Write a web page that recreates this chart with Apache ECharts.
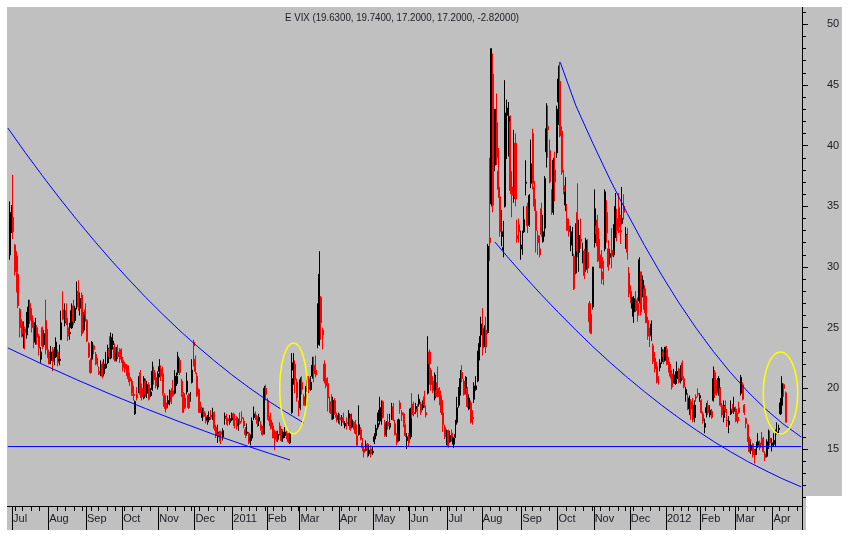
<!DOCTYPE html>
<html><head><meta charset="utf-8">
<script src="https://cdn.jsdelivr.net/npm/echarts@6/dist/echarts.min.js"></script>
<style>html,body{margin:0;padding:0;background:#fff}#c{width:850px;height:535px}</style>
</head><body><div id="c"></div><script>
const titleText = 'E VIX (19.6300, 19.7400, 17.2000, 17.2000, -2.82000)';
const monthNames = ['Jan','Feb','Mar','Apr','May','Jun','Jul','Aug','Sep','Oct','Nov','Dec'];
const holidays = ['2010-07-05','2010-09-06','2010-11-25','2010-12-24','2011-01-17','2011-02-21','2011-04-22','2011-05-30','2011-07-04','2011-09-05','2011-11-24','2011-12-26','2012-01-02','2012-01-16','2012-02-20','2012-04-06'];
const firstDay = '2010-06-28', lastDay = '2012-04-25';
const yTickValues = [15,20,25,30,35,40,45,50];
const yMinorValues = [11,12,13,14,16,17,18,19,21,22,23,24,26,27,28,29,31,32,33,34,36,37,38,39,41,42,43,44,46,47,48,49,51];

// bars: [open, high, low, close]
const bars2010 = [
 null,[31.0,35.4,30.6,34.1],[33.6,35.1,32.8,34.5],
 // Jul
 [34.1,37.6,32.3,32.9],[31.8,31.9,29.3,30.1],[30.9,31.3,27.9,29.6],[29.4,29.5,26.6,26.8],[26.5,26.6,24.2,25.0],
 [25.5,25.7,24.2,24.4],[24.3,25.5,23.3,24.4],[24.9,25.1,23.2,24.6],[24.4,26.3,24.1,25.9],[25.4,27.3,25.0,26.7],
 [27.0,27.3,25.3,25.6],[26.0,26.6,24.6,25.0],[25.4,25.6,23.3,23.9],[23.8,25.8,23.6,25.4],[25.0,25.2,23.6,24.2],
 [24.3,24.5,22.7,23.3],[22.4,23.4,22.1,23.0],[25.0,25.1,23.2,23.5],[23.6,24.8,23.4,24.5],[25.6,27.3,22.8,24.0],
 [24.2,24.9,22.5,23.2],
 // Aug
 [23.0,23.2,22.0,22.0],[22.3,23.5,22.0,23.0],[23.2,23.4,21.4,22.2],[22.4,23.4,21.9,23.0],[22.6,24.2,22.5,23.8],
 [23.0,23.2,21.8,22.1],[22.3,23.6,21.9,22.4],[24.0,26.4,24.0,25.4],[26.5,28.0,25.6,25.7],[25.4,27.0,25.1,26.2],
 [26.4,27.0,25.2,25.5],[25.0,25.8,23.9,24.3],[24.5,25.4,24.0,24.6],[25.0,27.0,24.9,26.4],[26.8,27.3,25.2,25.5],
 [25.6,26.8,25.4,26.6],[26.8,28.8,26.5,27.5],[28.0,28.9,26.4,26.7],[26.6,27.9,26.0,27.4],[27.7,27.9,24.3,24.5],
 [24.8,26.3,24.6,26.1],[26.5,27.0,25.5,26.1],
 // Sep
 [25.6,25.7,23.8,23.9],[23.7,23.8,22.5,22.6],[22.3,22.5,21.2,21.3],[22.4,23.9,22.3,23.8],[23.5,23.6,22.8,23.2],
 [22.8,23.0,21.9,22.2],[22.3,22.5,21.8,22.0],[21.4,21.8,21.1,21.2],[21.3,22.3,21.0,21.6],[22.0,22.2,20.8,21.0],
 [21.2,22.4,21.0,22.0],[21.7,23.0,21.6,22.0],[22.1,23.6,22.0,23.3],[23.2,24.3,22.4,22.6],[22.5,24.6,22.4,24.2],
 [23.6,24.5,23.2,23.9],[23.4,23.7,22.2,22.4],[22.3,23.4,22.2,22.9],[23.0,23.6,22.4,22.6],[22.8,23.3,22.1,22.4],
 [23.2,23.3,22.1,22.5],
 // Oct
 [22.3,22.6,21.4,21.7],[22.0,22.2,21.3,21.6],[21.9,22.0,21.0,21.3],[21.8,21.9,20.5,20.8],[20.9,21.3,20.2,20.6],
 [20.6,20.8,19.4,19.6],[19.5,20.2,19.0,19.4],[17.9,19.0,17.8,18.9],[19.5,20.1,19.0,19.2],[20.0,21.0,19.6,20.9],
 [21.3,21.5,19.2,19.5],[20.0,20.4,19.0,19.3],[19.2,21.0,19.1,20.8],[20.6,20.8,19.3,19.5],[19.6,20.6,19.2,20.3],
 [20.3,20.5,19.0,19.1],[19.4,20.0,19.3,19.7],[19.9,22.2,19.8,21.4],[21.5,21.8,20.3,20.7],[20.9,21.3,20.0,20.2],
 [20.1,21.4,19.9,21.2],
 // Nov
 [21.4,22.4,20.9,21.8],[21.6,21.9,20.6,21.0],[21.2,21.8,19.4,19.6],[19.4,19.6,18.3,18.5],[18.8,19.2,18.0,18.3],
 [18.7,19.4,18.4,19.0],[18.9,19.9,18.6,19.6],[19.8,20.0,18.7,18.9],[19.8,20.7,19.3,19.4],[19.6,21.5,19.5,20.6],
 [20.4,21.3,20.2,21.0],[21.3,23.0,21.1,22.6],[22.3,22.5,21.1,21.3],[20.6,20.8,19.3,19.6],[19.5,19.7,18.0,18.0],
 [19.2,19.6,18.3,18.4],[19.7,21.3,19.5,20.6],[19.4,19.6,18.3,18.4],[19.4,19.7,18.9,19.5],[20.5,22.4,20.4,21.5],
 [23.8,24.0,21.8,23.5],
 // Dec
 [22.4,22.7,21.2,21.4],[21.0,21.3,19.3,19.4],[19.9,20.0,18.0,18.0],[18.5,18.9,18.0,18.0],[17.6,18.4,17.3,18.0],
 [18.1,18.4,17.6,17.7],[17.7,18.0,17.1,17.3],[17.4,17.8,17.0,17.6],[17.4,18.1,17.2,17.6],[17.8,18.2,17.4,17.6],
 [17.7,18.4,17.4,17.9],[18.0,18.1,16.5,16.7],[16.8,17.0,15.9,16.1],[16.0,17.0,15.5,16.4],[16.3,16.5,15.6,16.1],
 [16.4,16.5,15.4,16.2],[16.0,16.7,15.7,16.5],[17.5,18.0,17.0,17.7],[17.6,17.9,17.0,17.5],[17.5,17.6,16.9,17.3],
 [17.2,17.8,17.0,17.5],[17.4,18.0,17.3,17.8]
];
const bars2011 = [
 // Jan
 [17.9,18.0,16.9,17.6],[17.5,17.9,16.7,17.4],[17.6,17.7,16.6,17.0],[16.9,17.5,16.5,17.1],[17.3,18.0,17.0,17.1],
 [17.6,18.1,17.2,17.5],[17.3,17.6,16.7,16.9],[16.6,16.8,15.9,16.2],[16.3,17.1,16.1,16.4],[16.3,16.4,15.4,15.5],
 [15.7,16.2,15.3,15.9],[15.9,17.6,15.8,17.3],[17.6,18.5,17.4,17.9],[17.8,18.1,17.4,17.6],[17.6,17.7,16.8,17.1],
 [17.3,17.9,16.9,17.6],[17.0,17.3,16.5,16.6],[16.5,16.9,16.1,16.2],[16.3,20.2,16.2,20.0],[20.0,20.3,19.0,19.5],
 // Feb
 [19.0,19.2,17.4,17.6],[17.5,17.7,16.9,17.3],[17.4,18.0,16.6,16.7],[16.9,17.2,15.9,15.9],[16.4,16.6,14.9,16.0],
 [16.1,16.5,15.6,15.8],[15.8,16.5,15.6,16.2],[16.9,17.2,16.1,16.5],[16.6,16.7,15.6,15.7],[15.9,16.5,15.6,16.4],
 [16.1,16.8,15.9,16.4],[16.3,16.5,15.8,16.0],[16.0,16.3,15.5,15.6],[15.5,16.5,15.4,16.3],[18.0,22.9,17.9,20.8],
 [21.5,22.9,20.3,22.1],[22.0,22.3,19.6,20.7],[20.5,20.8,18.9,19.2],[18.6,19.0,17.7,18.4],
 // Mar
 [18.4,20.9,18.2,20.7],[20.5,21.0,19.5,19.9],[19.3,19.5,18.6,18.6],[18.8,20.2,18.5,19.5],[19.7,21.0,19.5,20.7],
 [20.8,21.0,19.6,19.9],[19.9,21.0,19.8,20.5],[21.0,22.6,20.8,21.9],[21.9,22.6,20.5,21.2],[21.5,22.7,20.9,21.1],
 [23.6,27.0,23.3,24.3],[24.2,31.3,23.5,29.4],[27.5,27.6,24.0,25.4],[24.8,25.0,23.2,24.4],[22.0,22.3,20.4,20.6],
 [20.8,21.0,20.0,20.2],[20.4,20.9,18.1,19.2],[18.9,19.3,18.0,18.0],[18.4,19.5,17.4,17.9],[17.5,19.3,17.4,19.0],
 [19.0,19.2,17.8,17.9],[17.8,18.0,17.2,17.6],[17.4,18.0,17.1,17.7],
 // Apr
 [17.6,17.9,17.0,17.4],[17.3,17.8,16.9,17.5],[17.6,18.0,17.0,17.2],[16.9,17.3,16.7,17.1],[17.2,17.6,16.6,17.1],
 [17.0,18.2,16.9,17.9],[17.5,17.9,16.5,16.6],[16.8,17.9,16.7,17.4],[17.2,17.3,16.6,16.9],[17.0,17.4,16.2,16.3],
 [16.1,16.4,15.3,15.3],[16.2,18.6,16.1,17.0],[16.6,16.8,15.7,15.8],[15.5,15.9,14.8,15.1],[15.0,15.2,14.3,14.7],
 [14.9,15.7,14.8,15.0],[15.4,15.5,14.3,15.0],[14.6,15.3,14.4,14.9],[15.0,15.3,14.3,14.6],[14.7,15.2,14.5,14.8],
 // May
 [15.6,16.3,15.4,16.0],[16.1,17.0,15.8,16.7],[16.8,18.0,16.6,17.1],[17.3,19.3,17.0,18.2],[17.5,19.0,17.0,18.4],
 [18.9,19.0,17.5,17.6],[17.2,17.4,16.0,16.1],[16.2,17.3,16.0,17.0],[17.2,17.9,16.6,16.9],[16.8,17.9,16.6,17.1],
 [17.7,18.8,17.4,18.2],[18.5,18.8,17.3,17.4],[17.1,17.4,16.1,16.2],[16.0,16.3,15.3,15.5],[15.7,17.5,15.6,17.4],
 [18.8,19.0,17.9,18.3],[18.0,18.2,17.3,17.8],[17.9,18.0,16.8,17.1],[17.0,17.1,16.0,16.1],[15.7,16.3,15.0,16.0],
 [16.2,16.3,15.2,15.5],
 // Jun
 [16.0,18.4,15.8,18.3],[18.7,19.6,17.5,17.8],[18.0,18.9,17.7,17.9],[18.1,18.8,17.9,18.5],[18.3,18.7,17.6,18.1],
 [18.7,19.5,18.5,19.1],[18.7,18.9,17.8,18.0],[18.4,19.0,18.2,18.9],[19.3,19.8,18.4,18.6],[18.0,18.6,17.6,17.8],
 [19.6,24.3,19.5,22.7],[23.0,23.2,20.3,22.0],[21.5,21.7,19.8,20.3],[20.6,21.0,19.6,19.8],[19.2,21.3,19.0,21.1],
 [19.8,20.5,19.3,19.3],[20.0,21.8,19.3,19.3],[19.8,20.1,18.6,18.9],[19.0,19.4,17.8,18.0],[18.0,18.1,16.4,17.0],
 [16.8,17.0,15.8,16.0],[16.0,16.6,15.3,16.5],
 // Jul
 [16.5,16.6,15.1,15.2],[15.6,16.5,15.5,16.1],[16.3,16.6,15.6,15.9],[15.4,16.0,15.1,15.9],[16.0,17.4,15.9,16.2],
 [17.2,19.3,17.0,18.4],[18.6,20.1,18.4,19.9],[19.6,21.5,19.4,20.8],[21.3,21.9,20.5,20.8],[20.6,20.8,19.4,19.5],
 [20.0,21.0,19.5,20.9],[19.9,20.1,18.4,18.5],[18.3,19.5,18.2,19.2],[18.8,19.0,17.1,17.2],[17.6,18.2,17.0,17.5],
 [19.1,20.5,18.8,20.2],[19.9,21.0,19.8,20.2],[20.6,23.1,20.5,23.0],[22.6,24.3,22.3,23.7],[24.4,25.9,23.4,25.3],
 // Aug
 [25.0,26.6,22.7,23.3],[23.6,25.2,23.4,24.8],[24.8,25.9,22.9,23.4],[24.6,31.9,24.5,31.7],[32.4,39.0,30.5,32.0],
 [35.2,48.0,35.0,48.0],[45.9,47.6,34.5,35.1],[38.4,43.0,37.9,43.0],[41.9,44.3,38.4,39.0],[37.9,39.8,35.7,36.4],
 [35.8,36.6,32.5,32.9],[32.5,34.7,31.7,32.9],[31.4,33.8,30.8,31.6],[35.0,45.4,34.9,42.7],[42.5,43.8,38.9,43.1],
 [40.8,43.6,39.1,42.4],[42.0,42.5,36.0,36.3],[36.6,37.9,34.1,35.9],[36.2,41.3,35.3,39.8],[40.2,41.0,35.0,35.6],
 [32.6,33.9,32.0,32.3],[33.5,34.0,32.0,32.9],[31.5,33.0,30.6,31.6],
 // Sep
 [31.5,33.0,31.0,31.8],[32.9,35.0,32.8,33.9],[36.9,38.8,35.9,37.0],[35.0,35.3,32.8,33.4],[33.5,36.0,33.3,35.9],
 [36.9,40.5,36.5,38.5],[41.0,41.4,36.4,36.9],[36.6,37.1,34.6,35.0],[34.6,35.6,31.2,33.0],[32.6,33.0,31.0,32.0],
 [31.5,32.6,30.8,31.0],[34.8,35.3,32.5,32.7],[32.1,34.3,32.0,32.9],[33.2,37.5,32.5,37.3],[39.5,43.5,38.2,41.4],
 [41.6,43.3,39.0,41.3],[39.6,40.5,36.9,37.0],[35.4,36.4,34.3,35.3],[34.5,39.0,34.3,38.8],[38.0,39.5,35.4,37.0],
 [39.4,43.3,39.0,43.0],
 // Oct
 [43.6,46.6,41.7,45.5],[45.3,46.9,40.7,40.8],[41.2,41.6,37.6,37.8],[36.7,38.0,36.0,36.3],[35.1,37.4,34.6,36.2],
 [34.0,35.2,33.0,33.0],[33.4,34.0,32.5,32.9],[31.8,33.4,31.3,32.9],[31.9,33.3,30.9,32.0],[30.9,31.1,28.1,28.2],
 [29.5,33.6,29.4,33.4],[34.5,36.9,30.8,31.3],[31.2,33.9,29.6,32.6],[32.3,34.0,31.5,32.1],[30.8,32.0,30.3,31.3],
 [31.3,31.5,29.0,29.3],[29.8,32.4,29.6,32.2],[31.2,32.3,29.5,29.9],[27.0,27.2,24.6,25.5],[26.1,26.5,24.5,24.5],
 [26.7,30.0,26.5,30.0],
 // Nov
 [32.0,36.4,31.6,34.8],[33.4,33.9,31.7,32.7],[33.2,34.3,30.4,30.5],[31.0,32.3,29.9,30.2],[30.8,31.4,28.6,29.9],
 [29.6,30.5,28.5,29.0],[31.5,36.4,31.3,36.2],[34.5,35.5,32.0,32.8],[31.5,32.2,29.7,30.0],[30.8,31.5,30.2,31.1],
 [31.4,33.2,29.9,30.9],[31.0,33.5,30.8,33.5],[33.0,36.1,32.4,35.0],[34.0,34.8,32.1,33.0],[34.9,36.1,32.8,33.3],
 [33.0,34.3,31.9,32.9],[33.6,36.6,33.5,34.0],[35.0,36.0,33.9,34.5],[32.0,33.3,31.5,32.7],[32.6,33.2,30.6,31.2],
 [29.5,30.0,27.5,27.8],
 // Dec
 [28.0,28.5,27.0,27.4],[26.6,27.5,25.9,27.5],[26.3,27.6,25.4,27.4],[27.3,28.0,26.3,26.4],[27.0,27.5,25.5,26.0],
 [27.2,30.8,27.0,30.6],[29.6,29.6,26.0,26.3],[28.0,29.3,27.5,28.9],[28.2,28.5,26.2,26.5],[27.0,27.6,25.4,25.4],
 [25.6,25.9,24.0,24.3],[24.5,25.0,23.4,24.3],[24.4,25.6,23.9,25.3],[23.5,23.7,22.0,22.2],[22.5,23.0,21.3,21.6],
 [21.8,22.2,20.4,20.5],[20.8,21.0,20.3,20.7],[21.7,22.4,21.4,22.1],[22.2,23.4,22.0,23.2],[23.0,23.2,22.0,22.6],
 [22.3,23.4,22.2,23.4]
];
const bars2012 = [
 // Jan
 [23.2,23.5,21.9,22.0],[22.2,22.6,21.3,21.5],[21.6,22.0,20.8,21.0],[21.2,21.5,19.9,20.1],[20.5,21.6,20.4,21.1],
 [20.4,21.4,20.3,20.7],[20.8,22.2,20.7,21.4],[21.6,21.7,20.4,20.5],[20.6,21.9,20.4,21.5],[22.1,22.3,20.7,20.9],
 [20.8,21.0,20.0,20.1],[19.5,20.1,18.9,19.9],[19.2,19.6,18.2,18.3],[18.3,19.4,17.8,19.2],[18.9,19.1,17.4,18.3],
 [18.6,19.2,17.2,17.4],[17.6,19.0,17.2,18.6],[19.3,19.5,18.9,19.2],[19.6,20.0,19.3,19.5],[19.2,19.6,18.9,19.4],
 // Feb
 [19.0,19.1,17.9,18.0],[17.9,18.1,17.1,17.3],[16.8,17.5,16.3,17.1],[18.0,18.8,17.6,18.4],[18.6,19.0,17.8,18.0],
 [17.8,18.6,17.6,18.2],[18.1,18.3,17.5,17.6],[19.0,21.8,18.9,20.8],[21.3,21.5,19.2,19.5],[20.4,20.7,19.4,19.6],
 [19.8,21.0,19.4,20.8],[20.0,20.1,18.5,18.6],[18.6,18.8,17.6,17.8],[17.6,19.0,17.2,18.6],[18.5,19.0,18.0,18.2],
 [17.4,18.3,16.8,17.3],[17.0,17.7,16.3,17.3],[17.9,19.0,17.8,18.2],[18.3,18.7,18.0,18.2],[18.1,19.3,17.9,18.4],
 // Mar
 [18.3,18.5,17.2,17.3],[17.6,18.0,17.1,17.3],[18.4,18.9,17.9,18.0],[19.6,21.1,19.4,20.9],[20.3,20.5,19.0,19.1],
 [18.6,18.7,17.8,18.0],[17.5,17.6,16.7,17.1],[17.0,17.1,15.6,15.6],[15.8,16.0,14.7,14.8],[14.9,15.6,14.6,15.3],
 [15.4,15.5,14.3,14.5],[14.7,15.0,13.8,14.5],[14.6,15.6,14.5,15.0],[15.3,16.3,15.1,15.6],[15.5,15.7,14.9,15.1],
 [15.9,16.4,15.3,15.6],[15.8,16.0,14.7,14.8],[14.6,14.8,14.0,14.3],[14.4,15.8,14.3,15.6],[15.3,16.6,15.0,15.5],
 [15.9,16.5,15.3,15.5],[15.3,15.9,14.8,15.5],
 // Apr
 [15.4,16.3,15.2,15.6],[15.5,16.6,15.2,15.7],[16.3,17.2,16.2,16.4],[16.6,17.0,16.2,16.7],[17.9,19.2,17.8,18.8],
 [18.6,21.0,18.5,20.4],[20.3,20.4,19.3,20.0],[19.63,19.74,17.20,17.20]
];

// trend lines: [trading-day index, VIX value]
const trendUpperLeft = [[0,41.45],[10,39.45],[20,37.53],[30,35.68],[40,33.90],[50,32.20],[60,30.56],[70,29.01],[80,27.51],[90,26.10],[100,24.74],[110,23.47],[120,22.27],[130,21.13],[140,20.07],[150,19.08],[160,18.17],[170,17.32],[172,17.15]];
const trendLowerLeft = [[0,23.33],[20,21.99],[40,20.71],[60,19.49],[80,18.33],[100,17.23],[120,16.18],[140,15.20],[152,14.64],[164,14.09]];
const trendFlat = [[0,15.2],[461,15.2]];
const trendUpperRight = [[321,46.88],[330,43.33],[340,40.18],[350,37.19],[360,34.40],[370,31.77],[380,29.32],[390,27.04],[400,24.95],[410,23.03],[420,21.29],[430,19.72],[440,18.33],[450,17.12],[461,15.99]];
const trendLowerRight = [[283,32.07],[290,30.89],[300,29.27],[310,27.72],[320,26.24],[330,24.81],[340,23.43],[350,22.13],[360,20.89],[370,19.72],[380,18.60],[390,17.55],[400,16.56],[410,15.63],[420,14.77],[430,13.96],[440,13.24],[450,12.55],[461,11.88]];
// ellipses: trading-day index range, value range
const ellipses = [{from:158,to:174,lo:16.24,hi:23.74},{from:439,to:459,lo:16.24,hi:23.0}];

function tradingDays(start, end){
  const out=[]; let t=Date.parse(start+'T00:00:00Z'); const e=Date.parse(end+'T00:00:00Z');
  while(t<=e){ const d=new Date(t); const wd=d.getUTCDay(); const s=d.toISOString().slice(0,10);
    if(wd!==0&&wd!==6&&holidays.indexOf(s)<0) out.push(s); t+=86400000; }
  return out;
}
const days = tradingDays(firstDay, lastDay);
const allBars = bars2010.concat(bars2011, bars2012);
const candleData = allBars.map(b => b ? [b[0], b[3], b[2], b[1]] : '-');
const isMonthStart = i => i>0 && days[i].slice(0,7)!==days[i-1].slice(0,7);
const weekNo = s => Math.floor((Date.parse(s+'T00:00:00Z')/86400000 + 3)/7);
const isWeekStart = i => i>0 && weekNo(days[i])!==weekNo(days[i-1]);
const toLine = arr => arr.map(p => [days[p[0]], p[1]]);

const font = "'Liberation Sans',Arial,sans-serif";
const txtColor = '#1c1c24';
const chart = echarts.init(document.getElementById('c'), null, {renderer:'canvas'});
const blueLine = (data) => ({type:'line', data: toLine(data), symbol:'none', silent:true, z:5,
  lineStyle:{color:'#0000ff', width:1}, xAxisIndex:0, yAxisIndex:0});

chart.setOption({
  backgroundColor:'#c0c0c0',
  animation:false,
  grid:{left:7, right:48, top:7, bottom:29},
  xAxis:[
    {type:'category', data:days, boundaryGap:true, position:'bottom',
     axisLine:{show:true, lineStyle:{color:'#000', width:1}},
     axisTick:{show:true, interval:(i)=>isWeekStart(i), length:5, lineStyle:{color:'#000'}},
     axisLabel:{show:true, interval:(i)=>isMonthStart(i), align:'left', margin:7,
       fontFamily:font, fontSize:11, color:txtColor,
       formatter:(v)=>{const m=+v.slice(5,7); return m===1 ? v.slice(0,4) : monthNames[m-1];}},
     splitLine:{show:false}},
    {type:'category', data:days, boundaryGap:true, position:'bottom',
     axisLine:{show:false},
     axisTick:{show:true, interval:(i)=>isMonthStart(i), length:24, lineStyle:{color:'#000'}},
     axisLabel:{show:false}, splitLine:{show:false}}
  ],
  yAxis:[
    {type:'value', position:'right', min:10.30, max:51.43, scale:true,
     axisLine:{show:true, lineStyle:{color:'#000', width:1}},
     axisTick:{show:true, customValues:yTickValues, length:6, lineStyle:{color:'#000'}},
     axisLabel:{show:true, customValues:yTickValues, margin:25, fontFamily:font, fontSize:11, color:txtColor},
     splitLine:{show:false}},
    {type:'value', position:'right', min:10.30, max:51.43, scale:true,
     axisLine:{show:false},
     axisTick:{show:true, customValues:yMinorValues, length:4, lineStyle:{color:'#000'}},
     axisLabel:{show:false}, splitLine:{show:false}}
  ],
  series:[
    {type:'candlestick', data:candleData, xAxisIndex:0, yAxisIndex:0, barWidth:1.6,
     itemStyle:{color:'#000000', color0:'#ff0000', borderColor:'#000000', borderColor0:'#ff0000', borderColorDoji:'#000000', borderWidth:1}},
    blueLine(trendUpperLeft), blueLine(trendLowerLeft), blueLine(trendFlat),
    blueLine(trendUpperRight), blueLine(trendLowerRight)
  ]
});

const finder = {xAxisIndex:0, yAxisIndex:0};
const gfx = [];
ellipses.forEach(e => {
  const p1 = chart.convertToPixel(finder, [e.from, e.hi]);
  const p2 = chart.convertToPixel(finder, [e.to, e.lo]);
  gfx.push({type:'ellipse', z:50, silent:true,
    shape:{cx:(p1[0]+p2[0])/2, cy:(p1[1]+p2[1])/2, rx:Math.abs(p2[0]-p1[0])/2, ry:Math.abs(p2[1]-p1[1])/2},
    style:{fill:null, stroke:'#ffff00', lineWidth:1.5}});
});
// white page margins around the grey chart panel
[[0,0,850,7],[0,0,7,535],[842,0,8,535],[0,530,850,5],[806,496,44,39]].forEach(r => {
  gfx.push({type:'rect', z:100, silent:true, shape:{x:r[0], y:r[1], width:r[2], height:r[3]}, style:{fill:'#ffffff'}});
});
// title squeezed horizontally to the narrow face of the original
const titleFont = '11px ' + font;
const ctx = document.createElement('canvas').getContext('2d');
ctx.font = titleFont;
const tw = ctx.measureText(titleText).width || 234;
gfx.push({type:'text', z:60, silent:true, x:402, y:18, scaleX: Math.min(1, 234/tw),
  style:{text:titleText, align:'center', verticalAlign:'middle', font:titleFont, fill:txtColor}});
chart.setOption({graphic:gfx});
</script></body></html>
